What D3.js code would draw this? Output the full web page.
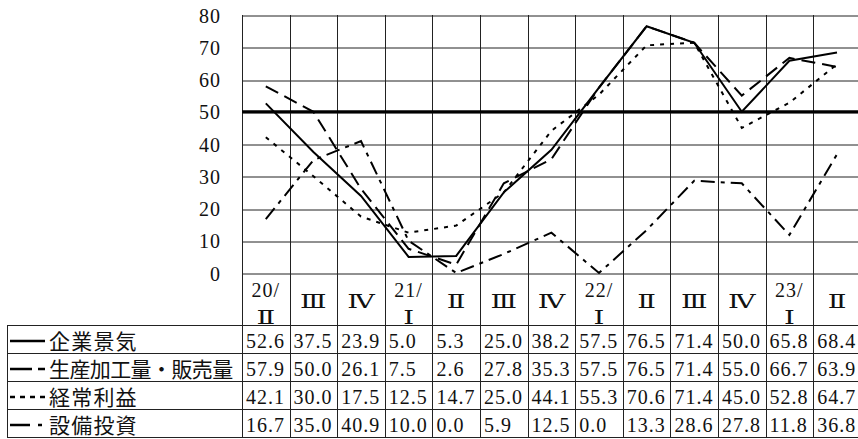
<!DOCTYPE html>
<html lang="ja">
<head>
<meta charset="utf-8">
<script src="https://cdn.jsdelivr.net/npm/d3@7"></script>
<style>
  html, body { margin: 0; padding: 0; background: #fff; }
  svg { display: block; }
  .num { font-family: "Liberation Serif", "DejaVu Serif", serif; font-size: 20px; letter-spacing: 1px; fill: #111; }
  .roman { font-family: "DejaVu Serif", "Liberation Serif", serif; font-size: 19px; fill: #111; }
  .jp { font-family: "Noto Sans CJK JP", sans-serif; font-size: 21px; fill: #111; }
</style>
</head>
<body>
<svg id="chart" width="858" height="439"></svg>
<script>
// Quarter labels (year prefix only at the first quarter of each year)
const yearLabels    = ["20/", "", "", "21/", "", "", "", "22/", "", "", "", "23/", ""];
const quarterLabels = ["Ⅱ", "Ⅲ", "Ⅳ", "Ⅰ", "Ⅱ", "Ⅲ", "Ⅳ", "Ⅰ", "Ⅱ", "Ⅲ", "Ⅳ", "Ⅰ", "Ⅱ"];

// DI values per series
const businessCondition = [52.6, 37.5, 23.9, 5.0, 5.3, 25.0, 38.2, 57.5, 76.5, 71.4, 50.0, 65.8, 68.4];
const productionSales   = [57.9, 50.0, 26.1, 7.5, 2.6, 27.8, 35.3, 57.5, 76.5, 71.4, 55.0, 66.7, 63.9];
const ordinaryProfit    = [42.1, 30.0, 17.5, 12.5, 14.7, 25.0, 44.1, 55.3, 70.6, 71.4, 45.0, 52.8, 64.7];
const capitalInvestment = [16.7, 35.0, 40.9, 10.0, 0.0, 5.9, 12.5, 0.0, 13.3, 28.6, 27.8, 11.8, 36.8];

const seriesNames = ["企業景気", "生産加工量・販売量", "経常利益", "設備投資"];
const yTicks = [0, 10, 20, 30, 40, 50, 60, 70, 80];
const referenceLevel = 50;

const series = [
  { name: seriesNames[0], values: businessCondition, dash: null,       legendDash: null,         spacing: 1.2 },
  { name: seriesNames[1], values: productionSales,   dash: "14,7",     legendDash: "22,6,7,200", spacing: -0.6 },
  { name: seriesNames[2], values: ordinaryProfit,    dash: "4,6",      legendDash: "5,5",        spacing: 1.2 },
  { name: seriesNames[3], values: capitalInvestment, dash: "14,6,4,6", legendDash: "20,8,4,200", spacing: 1.2 }
];

const W = 858, H = 439;
const plotLeft = 242, colW = 47.6, plotTop = 15, plotBottom = 273;
const tableLeft = 7, rowH = 28, headerBottom = 325;
const nCols = quarterLabels.length;
const plotRight = W;

const svg = d3.select("#chart");

const x = d3.scaleBand()
  .domain(d3.range(nCols))
  .range([plotLeft, plotLeft + nCols * colW])
  .paddingInner(0).paddingOuter(0);

const y = d3.scaleLinear().domain([0, 80]).range([plotBottom, plotTop]);

const crisp = v => Math.round(v) + 0.5;
const tableBottom = headerBottom + series.length * rowH;

// Horizontal grid lines and y-axis labels
const yAxis = d3.axisLeft(y)
  .tickValues(yTicks)
  .tickSize(-(plotRight - plotLeft))
  .tickPadding(21)
  .tickFormat(d3.format("d"));

const gy = svg.append("g")
  .attr("transform", `translate(${plotLeft},0)`)
  .call(yAxis)
  .attr("font-family", null)
  .attr("font-size", null);
gy.select(".domain").remove();
gy.selectAll(".tick line")
  .attr("stroke", "#222")
  .attr("stroke-width", 1)
  .attr("transform", d => `translate(0,${crisp(y(d)) - y(d)})`);
gy.selectAll(".tick text")
  .attr("class", "num")
  .attr("fill", null)
  .attr("dy", "0.36em");

// Vertical grid lines, running through the plot and the table
const boundaries = d3.range(nCols + 1).map(i => plotLeft + i * colW);
svg.append("g").selectAll("line")
  .data(boundaries)
  .join("line")
  .attr("x1", d => crisp(d)).attr("x2", d => crisp(d))
  .attr("y1", plotTop).attr("y2", tableBottom + 0.5)
  .attr("stroke", "#222").attr("stroke-width", 1);

// Table row rules and left border
const rowLines = d3.range(series.length + 1).map(i => headerBottom + i * rowH);
svg.append("g").selectAll("line")
  .data(rowLines)
  .join("line")
  .attr("x1", tableLeft).attr("x2", W)
  .attr("y1", d => crisp(d)).attr("y2", d => crisp(d))
  .attr("stroke", "#222").attr("stroke-width", 1);
svg.append("line")
  .attr("x1", crisp(tableLeft)).attr("x2", crisp(tableLeft))
  .attr("y1", headerBottom).attr("y2", tableBottom + 1)
  .attr("stroke", "#222").attr("stroke-width", 1);

// Threshold line at 50
svg.append("line")
  .attr("x1", plotLeft).attr("x2", plotRight)
  .attr("y1", y(referenceLevel)).attr("y2", y(referenceLevel))
  .attr("stroke", "#000").attr("stroke-width", 3.2);

// Series lines
const line = d3.line()
  .x((d, i) => x(i) + x.bandwidth() / 2)
  .y(d => y(d));

svg.append("g").selectAll("path")
  .data(series)
  .join("path")
  .attr("d", d => line(d.values))
  .attr("fill", "none")
  .attr("stroke", "#000")
  .attr("stroke-width", 2)
  .attr("stroke-linejoin", "miter")
  .attr("stroke-dasharray", d => d.dash);

// Header row: quarter labels
const header = svg.append("g");
header.selectAll("text.year")
  .data(yearLabels.map((t, i) => ({ t, i })).filter(d => d.t))
  .join("text")
  .attr("class", "num year")
  .attr("x", d => x(d.i) + x.bandwidth() / 2)
  .attr("y", 297)
  .attr("text-anchor", "middle")
  .text(d => d.t);
// Roman numerals drawn wide, like full-width glyphs
header.selectAll("text.quarter")
  .data(quarterLabels.map((t, i) => ({ t, i, two: !!yearLabels[i] })))
  .join("text")
  .attr("class", "roman quarter")
  .attr("transform", d => `translate(${x(d.i) + x.bandwidth() / 2},${d.two ? 324 : 308}) scale(1.45,1)`)
  .attr("text-anchor", "middle")
  .text(d => d.t);

// Table body: legend cell + values
const fmt = d3.format(".1f");
const rows = svg.append("g").selectAll("g")
  .data(series)
  .join("g")
  .attr("transform", (d, i) => `translate(0,${headerBottom + i * rowH})`);

rows.append("line")
  .attr("x1", 10).attr("x2", 45)
  .attr("y1", 16).attr("y2", 16)
  .attr("stroke", "#000")
  .attr("stroke-width", 2.4)
  .attr("stroke-dasharray", d => d.legendDash);

rows.append("text")
  .attr("class", "jp")
  .attr("x", 49)
  .attr("y", 23.5)
  .style("letter-spacing", d => d.spacing + "px")
  .text(d => d.name);

rows.selectAll("text.val")
  .data(d => d.values)
  .join("text")
  .attr("class", "num val")
  .attr("x", (v, i) => x(i) + 4)
  .attr("y", 23)
  .text(v => fmt(v));
</script>
</body>
</html>
